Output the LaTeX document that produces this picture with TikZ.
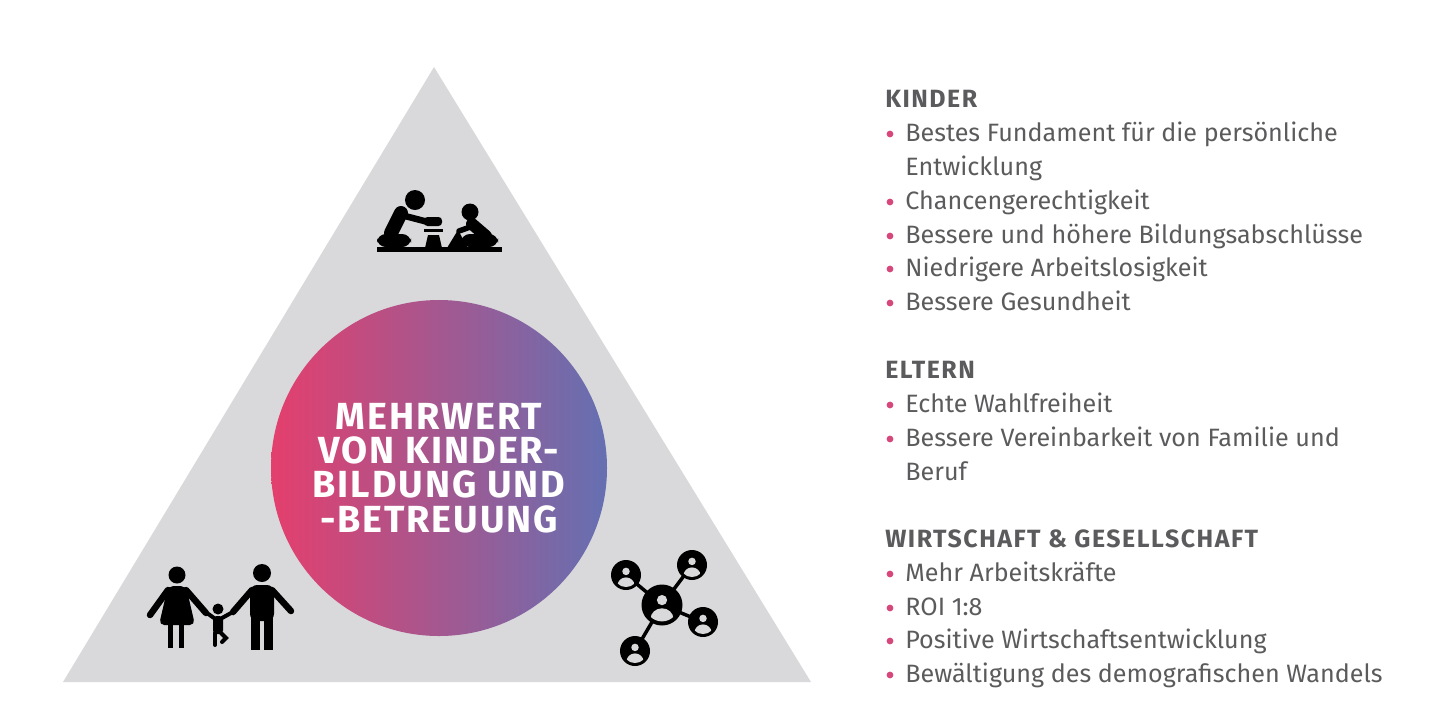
\documentclass[tikz,border=0pt]{standalone}
\usepackage{fontspec}
\setmainfont{Fira Sans}
\usetikzlibrary{positioning}
\definecolor{trigray}{HTML}{D9D9DB}
\definecolor{txtgray}{HTML}{5B5B5D}
\definecolor{dotpink}{HTML}{D6487C}
\definecolor{circpink}{HTML}{E43F6D}
\definecolor{circmid}{HTML}{A3649A}
\definecolor{circblue}{HTML}{6570B2}
\tikzset{
    headline/.style={anchor=base west, inner sep=0pt, text=txtgray,
        font=\fontsize{14.2}{16}\selectfont\bfseries\addfontfeatures{LetterSpace=6}},
    listitem/.style={anchor=base west, inner sep=0pt, text=txtgray,
        font=\fontsize{14.3}{16}\selectfont},
    titletext/.style={align=center, inner sep=0pt, text=white,
        font=\fontsize{21.5}{19.5}\selectfont\bfseries\addfontfeatures{LetterSpace=5}},
    limb/.style={line width=0.13cm, line cap=round},
    netuser/.pic={
        \fill[black] (0,0) circle (1);
        \begin{scope}
            \clip (0,0) circle (0.8);
            \fill[trigray] (0,-0.24) circle (0.25);
            \fill[trigray] (0,0.68) ellipse (0.56 and 0.52);
        \end{scope}
    }
}

\begin{document}
\begin{tikzpicture}[x=0.02cm, y=-0.02cm]
    \useasboundingbox (0, 0) rectangle (1433, 725);

    % triangle and circle
    \fill[trigray] (434, 67) -- (811, 682) -- (63, 682) -- cycle;
    \begin{scope}
        \clip (439, 468) circle (168);
        \shade[left color=circpink, middle color=circmid, right color=circblue]
            (271, 300) rectangle (607, 636);
    \end{scope}
    \node[titletext] (title) at (439, 468)
        {MEHRWERT\\VON KINDER-\\BILDUNG UND\\-BETREUUNG};

    % children playing
    \fill (415, 200) circle (10);
    \draw[line width=0.28cm, line cap=round] (401, 213) -- (391, 233);
    \fill[rounded corners=5] (377, 234) rectangle (411, 247);
    \draw[limb] (405, 216) -- (428, 222);
    \fill[rounded corners=2] (424, 217) rectangle (442, 226);
    \fill (424, 229) rectangle (443, 232);
    \fill (428, 235) -- (439, 235) -- (442, 248) -- (425, 248) -- cycle;
    \fill (470, 212) circle (8.5);
    \draw[line width=0.24cm, line cap=round] (472, 224) -- (486, 236);
    \fill[rounded corners=5] (461, 234) rectangle (498, 247);
    \draw[line width=0.11cm, line cap=round] (473, 226) -- (459, 231);
    \fill (447, 248) -- (458, 230) -- (468, 248) -- cycle;
    \fill (377, 247) rectangle (502, 252);

    % family
    \fill (177, 575) circle (8.5);
    \fill[rounded corners=3] (168, 586) -- (186, 586) -- (195, 625) -- (159, 625) -- cycle;
    \draw[limb] (168, 590) -- (150, 615);
    \draw[limb] (186, 590) -- (206, 613);
    \fill (168, 624) rectangle (173, 648);
    \fill (179, 624) rectangle (184, 648);
    \fill (218, 609) circle (5.5);
    \fill[rounded corners=2] (213, 616) rectangle (223, 634);
    \draw[line width=0.08cm, line cap=round] (214, 618) -- (207, 613);
    \draw[line width=0.08cm, line cap=round] (222, 618) -- (231, 613);
    \draw[line width=0.08cm, line cap=round] (215, 633) -- (215, 645);
    \draw[line width=0.08cm, line cap=round] (221, 633) -- (226, 638) -- (222, 642);
    \fill (262, 573) circle (9);
    \fill[rounded corners=4] (250, 585) rectangle (274, 621);
    \fill (251, 618) rectangle (260, 650);
    \fill (264, 618) rectangle (273, 650);
    \draw[limb] (252, 590) -- (233, 612);
    \draw[limb] (272, 590) -- (291, 611);

    % network of people
    \coordinate (hub) at (662, 605);
    \coordinate (nu1) at (626, 575);
    \coordinate (nu2) at (692, 565);
    \coordinate (nu3) at (703, 622);
    \coordinate (nu4) at (635, 651);
    \draw[line width=0.07cm] (hub) -- (nu1) (hub) -- (nu2) (hub) -- (nu3) (hub) -- (nu4);
    \pic[scale=20.5] at (hub) {netuser};
    \pic[scale=15] at (nu1) {netuser};
    \pic[scale=15] at (nu2) {netuser};
    \pic[scale=15] at (nu3) {netuser};
    \pic[scale=15] at (nu4) {netuser};

    % list on the right
    \node[headline] (kinder) at (885, 107) {KINDER};
    \node[listitem] (k1) at (905, 141) {Bestes Fundament für die persönliche};
    \node[listitem] (k1b) at (905, 175) {Entwicklung};
    \node[listitem] (k2) at (905, 209) {Chancengerechtigkeit};
    \node[listitem] (k3) at (905, 243) {Bessere und höhere Bildungsabschlüsse};
    \node[listitem] (k4) at (905, 276) {Niedrigere Arbeitslosigkeit};
    \node[listitem] (k5) at (905, 310) {Bessere Gesundheit};

    \node[headline] (eltern) at (885, 378) {ELTERN};
    \node[listitem] (e1) at (905, 412) {Echte Wahlfreiheit};
    \node[listitem] (e2) at (905, 446) {Bessere Vereinbarkeit von Familie und};
    \node[listitem] (e2b) at (905, 480) {Beruf};

    \node[headline] (wirt) at (885, 547) {WIRTSCHAFT \& GESELLSCHAFT};
    \node[listitem] (w1) at (905, 581) {Mehr Arbeitskräfte};
    \node[listitem] (w2) at (905, 615) {ROI 1:8};
    \node[listitem] (w3) at (905, 648) {Positive Wirtschaftsentwicklung};
    \node[listitem] (w4) at (905, 682) {Bewältigung des demografischen Wandels};

    % bullets
    \fill[dotpink]
        ([shift={(-15, -7)}]k1.base west) circle (3.4)
        ([shift={(-15, -7)}]k2.base west) circle (3.4)
        ([shift={(-15, -7)}]k3.base west) circle (3.4)
        ([shift={(-15, -7)}]k4.base west) circle (3.4)
        ([shift={(-15, -7)}]k5.base west) circle (3.4)
        ([shift={(-15, -7)}]e1.base west) circle (3.4)
        ([shift={(-15, -7)}]e2.base west) circle (3.4)
        ([shift={(-15, -7)}]w1.base west) circle (3.4)
        ([shift={(-15, -7)}]w2.base west) circle (3.4)
        ([shift={(-15, -7)}]w3.base west) circle (3.4)
        ([shift={(-15, -7)}]w4.base west) circle (3.4);
\end{tikzpicture}
\end{document}
